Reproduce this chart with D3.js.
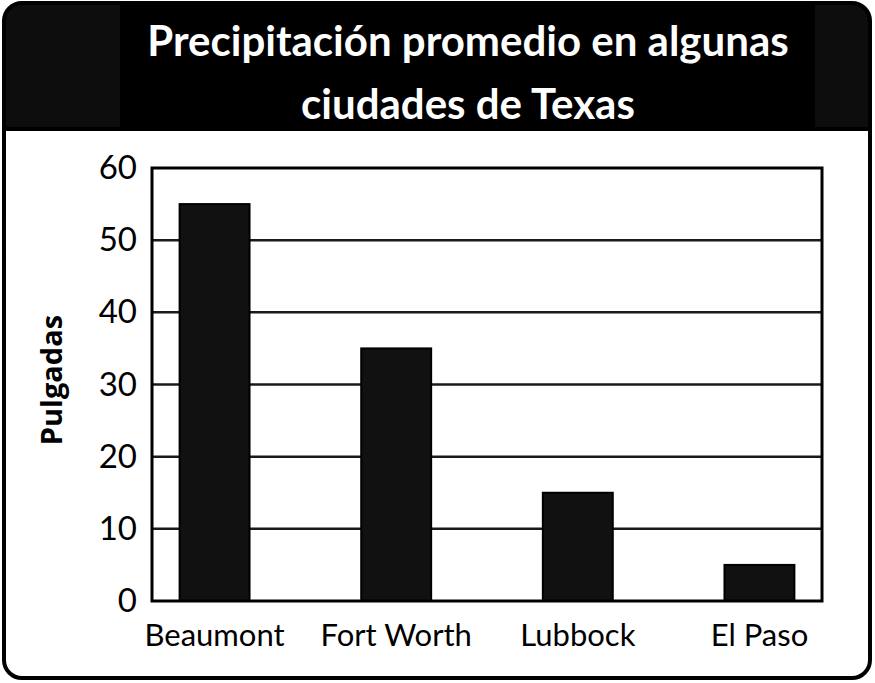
<!DOCTYPE html>
<html>
<head>
<meta charset="utf-8">
<script src="https://cdn.jsdelivr.net/npm/d3@7"></script>
<style>
  body { margin: 0; background: #fff; }
  svg { display: block; }
</style>
</head>
<body>
<div id="chart"></div>
<script>
// chart values
const cities = ["Beaumont", "Fort Worth", "Lubbock", "El Paso"];
const inches = [55, 35, 15, 5];
const yTicks = [0, 10, 20, 30, 40, 50, 60];
const titleLines = ["Precipitación promedio en algunas", "ciudades de Texas"];
const yLabel = "Pulgadas";

const W = 875, H = 683;
const plot = {left: 152, top: 168, right: 822, bottom: 601};

const svg = d3.select("#chart").append("svg")
    .attr("width", W)
    .attr("height", H);

// outer card, rounded
const card = {x: 4, y: 3, w: 866, h: 675, r: 18};

svg.append("defs").append("clipPath")
    .attr("id", "card-clip")
    .append("rect")
    .attr("x", card.x).attr("y", card.y)
    .attr("width", card.w).attr("height", card.h)
    .attr("rx", card.r);

svg.append("rect")
    .attr("x", card.x).attr("y", card.y)
    .attr("width", card.w).attr("height", card.h)
    .attr("rx", card.r)
    .attr("fill", "#fff");

// header band
let header = svg.append("g").attr("clip-path", "url(#card-clip)");
header.append("rect")
    .attr("x", 0).attr("y", 0)
    .attr("width", W).attr("height", 131)
    .attr("fill", "#000");
header.append("rect")
    .attr("x", 0).attr("y", 0)
    .attr("width", 120).attr("height", 127)
    .attr("fill", "#0d0d0d");
header.append("rect")
    .attr("x", 815).attr("y", 0)
    .attr("width", 60).attr("height", 127)
    .attr("fill", "#0d0d0d");

svg.append("rect")
    .attr("x", card.x).attr("y", card.y)
    .attr("width", card.w).attr("height", card.h)
    .attr("rx", card.r)
    .attr("fill", "none")
    .attr("stroke", "#000")
    .attr("stroke-width", 4);

// title
svg.append("g")
    .selectAll("text")
    .data(titleLines)
    .join("text")
    .attr("x", 468)
    .attr("y", (d, i) => 56 + i * 63)
    .attr("text-anchor", "middle")
    .attr("fill", "#fff")
    .style("font-family", "Lato, sans-serif")
    .style("font-weight", "bold")
    .style("font-size", "42px")
    .text(d => d);

// scales
const x = d3.scaleBand()
    .domain(cities)
    .range([plot.left, plot.right])
    .paddingInner(0.615)
    .paddingOuter(0.152);

const y = d3.scaleLinear()
    .domain([0, 60])
    .range([plot.bottom, plot.top]);

// gridlines
svg.append("g")
    .selectAll("line")
    .data(yTicks.filter(t => t > 0 && t < 60))
    .join("line")
    .attr("x1", plot.left)
    .attr("x2", plot.right)
    .attr("y1", d => y(d))
    .attr("y2", d => y(d))
    .attr("stroke", "#1a1a1a")
    .attr("stroke-width", 2.5);

// bars
svg.append("g")
    .selectAll("rect")
    .data(cities)
    .join("rect")
    .attr("x", d => x(d))
    .attr("y", (d, i) => y(inches[i]))
    .attr("width", x.bandwidth())
    .attr("height", (d, i) => y(0) - y(inches[i]))
    .attr("fill", "#111")
    .attr("stroke", "#000")
    .attr("stroke-width", 2);

// plot frame
svg.append("rect")
    .attr("x", plot.left).attr("y", plot.top)
    .attr("width", plot.right - plot.left)
    .attr("height", plot.bottom - plot.top)
    .attr("fill", "none")
    .attr("stroke", "#000")
    .attr("stroke-width", 3);

// axes
const yAxis = d3.axisLeft(y)
    .tickValues(yTicks)
    .tickSize(0)
    .tickPadding(15);

const xAxis = d3.axisBottom(x)
    .tickSize(0)
    .tickPadding(23);

let yG = svg.append("g")
    .attr("transform", "translate(" + plot.left + ",0)")
    .call(yAxis);
yG.select(".domain").remove();
yG.selectAll("text")
    .attr("fill", "#000")
    .style("font-family", "Lato, sans-serif")
    .style("font-size", "33px");

let xG = svg.append("g")
    .attr("transform", "translate(0," + plot.bottom + ")")
    .call(xAxis);
xG.select(".domain").remove();
xG.selectAll("text")
    .attr("fill", "#000")
    .style("font-family", "Lato, sans-serif")
    .style("font-size", "31px");

// y label
svg.append("text")
    .attr("transform", "translate(62,380) rotate(-90)")
    .attr("text-anchor", "middle")
    .attr("fill", "#000")
    .style("font-family", "'Open Sans', sans-serif")
    .style("font-weight", "bold")
    .style("font-size", "29px")
    .text(yLabel);
</script>
</body>
</html>
